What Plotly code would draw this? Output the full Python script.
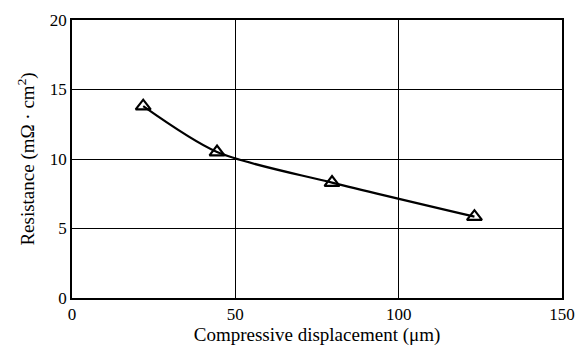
import plotly.graph_objects as go

displacement = [21.8, 44.4, 79.6, 123.2]
resistance = [13.8, 10.5, 8.3, 5.85]

x_ticks = [0, 50, 100, 150]
y_ticks = [0, 5, 10, 15, 20]

font = "Liberation Serif, Times New Roman, serif"

fig = go.Figure()
fig.add_trace(go.Scatter(
    x=displacement, y=resistance,
    mode="lines+markers",
    line=dict(color="black", width=2.2, shape="spline", smoothing=0.8),
    marker=dict(symbol="triangle-up-open", size=13, color="black",
                line=dict(color="black", width=2.2)),
    showlegend=False,
))

fig.update_layout(
    width=586, height=352,
    margin=dict(l=72, r=11, t=18, b=52),
    paper_bgcolor="white", plot_bgcolor="white",
    font=dict(family=font, size=17, color="black"),
)
fig.update_xaxes(
    range=[0, 150], tickvals=x_ticks, ticktext=[str(v) for v in x_ticks],
    showgrid=True, gridcolor="black", gridwidth=1.3,
    showline=True, linecolor="black", linewidth=1.5, mirror=True,
    zeroline=False, ticks="", ticklen=0,
    title=dict(text="Compressive displacement (μm)", font=dict(size=19), standoff=4),
)
fig.update_yaxes(
    range=[0, 20], tickvals=y_ticks, ticktext=[str(v) for v in y_ticks],
    showgrid=True, gridcolor="black", gridwidth=1.3,
    showline=True, linecolor="black", linewidth=1.5, mirror=True,
    zeroline=False, ticks="", ticklen=0,
    title=dict(text="Resistance (mΩ · cm<sup>2</sup>)", font=dict(size=19), standoff=10),
)

fig.write_html("out.html")
